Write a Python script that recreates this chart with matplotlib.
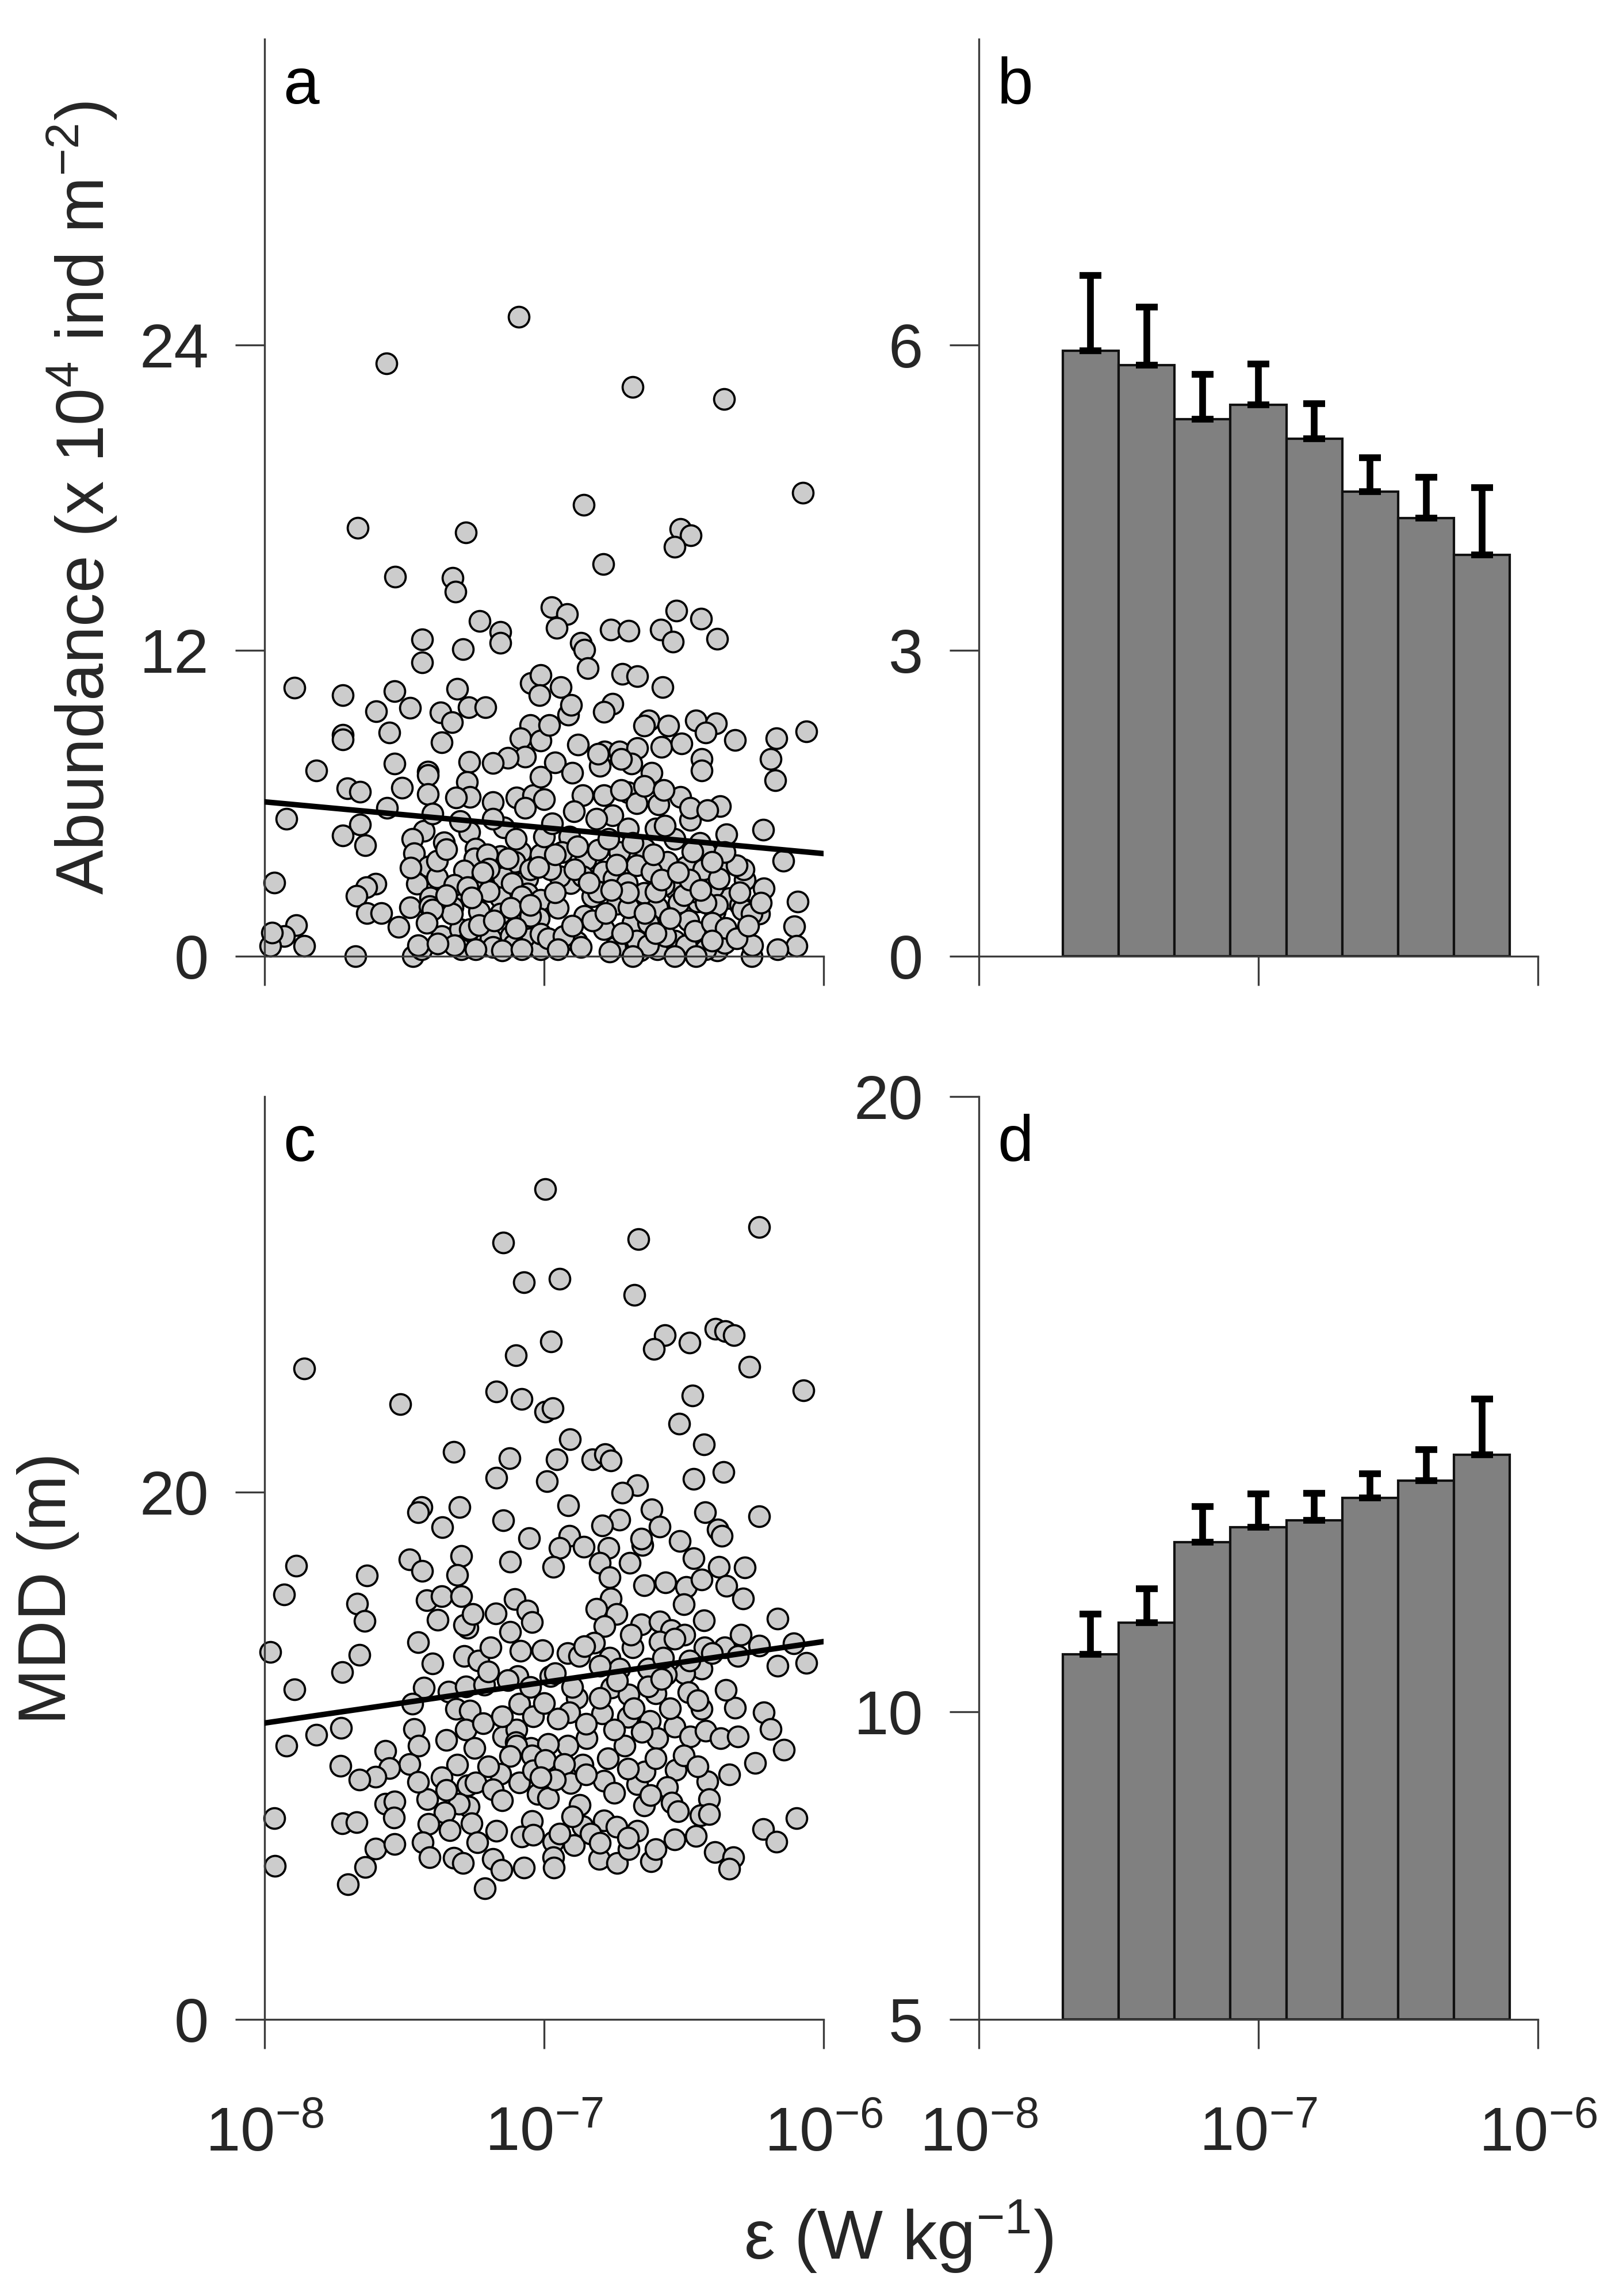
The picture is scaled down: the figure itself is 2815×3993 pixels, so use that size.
import numpy as np
import matplotlib
matplotlib.use('Agg')
from matplotlib import pyplot as plt
from matplotlib.ticker import FixedLocator, NullLocator

plt.rcParams['font.family'] = ['Liberation Sans', 'DejaVu Sans']
plt.rcParams['mathtext.fontset'] = 'custom'
plt.rcParams['mathtext.rm'] = 'Liberation Sans'
plt.rcParams['mathtext.it'] = 'Liberation Sans:italic'
plt.rcParams['mathtext.bf'] = 'Liberation Sans:bold'
plt.rcParams['mathtext.default'] = 'regular'

# ---- data (x values as log10 of dissipation rate, W kg-1) ----
# panel a: abundance (x 10^4 ind m^-2) vs log10(eps)
abund_pts = [
    (-7.09, 25.1), (-7.563, 23.26), (-6.683, 22.35), (-6.356, 21.88), (-6.075, 18.2),
    (-6.859, 17.72), (-7.666, 16.81), (-7.28, 16.63), (-6.513, 16.78), (-6.476, 16.53),
    (-6.533, 16.07), (-6.788, 15.39), (-7.532, 14.89), (-7.328, 14.86), (-7.317, 14.3),
    (-7.23, 13.16), (-7.156, 12.73), (-6.973, 13.69), (-6.918, 13.44), (-6.955, 12.89),
    (-6.761, 12.83), (-6.698, 12.78), (-6.583, 12.83), (-6.526, 13.56), (-6.439, 13.24),
    (-7.436, 12.44), (-7.436, 11.53), (-7.29, 12.05), (-7.156, 12.3), (-7.894, 10.53),
    (-7.72, 10.25), (-7.535, 10.41), (-7.60, 9.62), (-7.48, 9.75), (-7.31, 10.5),
    (-7.37, 9.57), (-7.27, 9.78), (-7.21, 9.78), (-7.33, 9.19), (-7.72, 8.69),
    (-7.72, 8.52), (-7.554, 8.78), (-7.366, 8.39), (-7.047, 10.71), (-7.013, 11.04),
    (-7.016, 10.25), (-7.05, 9.08), (-7.084, 8.56), (-7.013, 8.47), (-7.067, 7.83),
    (-7.129, 7.78), (-7.184, 7.59), (-7.267, 7.63), (-7.815, 7.28), (-7.535, 7.56),
    (-7.415, 7.24), (-7.415, 7.1), (-7.703, 6.58), (-7.658, 6.45), (-7.508, 6.62),
    (-7.415, 6.37), (-7.276, 6.83), (-7.266, 6.26), (-7.314, 6.22), (-7.184, 6.04),
    (-7.098, 6.24), (-7.04, 6.31), (-7.013, 7.04), (-7.561, 5.83), (-7.921, 5.4),
    (-7.658, 5.17), (-7.72, 4.74), (-7.64, 4.36), (-7.144, 5.05), (-7.43, 4.92),
    (-7.472, 4.61), (-7.359, 4.48), (-7.267, 4.88), (-7.465, 4.05), (-7.245, 4.22),
    (-7.25, 3.83), (-7.156, 3.92), (-7.084, 4.09), (-7.013, 4.0), (-7.105, 3.7),
    (-7.966, 2.9), (-7.414, 3.53), (-7.383, 3.09), (-7.455, 2.84), (-7.287, 3.36),
    (-7.225, 2.96), (-7.146, 3.09), (-7.06, 3.05), (-7.602, 2.84), (-7.636, 2.70),
    (-7.671, 2.36), (-7.407, 2.31), (-7.302, 2.36), (-7.156, 2.31), (-7.06, 2.45),
    (-7.013, 2.22), (-7.48, 1.92), (-7.41, 1.96), (-7.328, 1.92), (-7.232, 1.75),
    (-7.633, 1.70), (-7.582, 1.70), (-7.52, 1.14), (-7.887, 1.22), (-7.931, 0.79),
    (-7.979, 0.40), (-7.859, 0.40), (-7.973, 0.93), (-7.674, 0.0), (-7.47, 0.0),
    (-7.438, 0.27), (-7.45, 0.44), (-7.366, 0.79), (-7.30, 1.05), (-7.293, 0.44),
    (-7.266, 1.05), (-7.191, 0.70), (-7.119, 0.79), (-7.081, 1.22), (-7.019, 1.49),
    (-7.05, 0.70), (-7.297, 0.27), (-7.184, 0.36), (-7.109, 0.45), (-7.013, 0.27),
    (-7.478, 3.48), (-7.32, 2.8), (-7.197, 2.54), (-7.087, 1.49), (-7.204, 4.0),
    (-7.115, 2.87), (-7.05, 3.40), (-7.081, 2.35), (-7.156, 1.66), (-7.013, 0.88),
    (-7.232, 1.22), (-7.05, 1.57), (-7.273, 2.70), (-7.383, 3.74), (-7.33, 1.66),
    (-7.40, 1.83), (-7.32, 0.44), (-7.245, 0.27), (-7.15, 0.23), (-7.08, 0.27),
    (-7.197, 3.44), (-7.13, 3.83), (-7.184, 5.39), (-7.0, 4.70), (-7.0, 6.17),
    (-7.067, 5.83),
    (-6.868, 12.3), (-6.855, 12.03), (-6.844, 11.3), (-6.539, 12.34), (-6.381, 12.47),
    (-6.721, 11.08), (-6.666, 10.99), (-6.577, 10.56), (-6.94, 10.56), (-6.755, 9.91),
    (-6.786, 9.60), (-6.913, 9.47), (-6.903, 9.86), (-6.981, 9.08), (-6.625, 9.26),
    (-6.556, 9.04), (-6.642, 9.04), (-6.457, 9.26), (-6.385, 9.13), (-6.422, 8.78),
    (-6.316, 8.48), (-6.169, 8.56), (-6.062, 8.82), (-6.189, 7.74), (-6.172, 6.91),
    (-6.879, 8.30), (-6.961, 7.61), (-6.899, 7.21), (-6.783, 8.04), (-6.731, 8.04),
    (-6.666, 8.17), (-6.58, 8.21), (-6.508, 8.35), (-6.687, 7.56), (-6.8, 7.48),
    (-6.615, 7.21), (-6.436, 7.74), (-6.436, 7.30), (-6.862, 6.31), (-6.786, 6.31),
    (-6.70, 6.43), (-6.669, 6.0), (-6.591, 5.96), (-6.512, 6.26), (-6.892, 5.69),
    (-6.755, 5.52), (-6.371, 5.88), (-6.477, 5.35), (-6.217, 4.96), (-6.70, 5.0),
    (-6.601, 5.0), (-6.909, 4.70), (-6.347, 4.79), (-6.443, 4.44), (-6.145, 3.74),
    (-6.731, 4.09), (-6.639, 4.22), (-6.56, 3.7), (-6.491, 3.53), (-6.851, 3.79),
    (-6.337, 3.66), (-6.789, 3.31), (-6.282, 3.0), (-6.213, 2.66), (-6.906, 2.87),
    (-6.532, 2.66), (-6.642, 2.48), (-6.093, 2.14), (-6.104, 1.18), (-6.097, 0.40),
    (-6.165, 0.27), (-6.258, 0.01), (-6.255, 0.44), (-6.738, 2.05), (-6.388, 1.75),
    (-6.337, 2.27), (-6.23, 1.66), (-6.45, 2.14), (-6.594, 1.92), (-6.683, 1.32),
    (-6.786, 1.05), (-6.419, 0.92), (-6.882, 0.57), (-6.594, 0.27), (-6.381, 0.23),
    (-6.745, 0.36), (-6.985, 0.70), (-6.532, 0.62), (-6.656, 0.23), (-6.944, 3.13),
    (-6.827, 2.35), (-6.628, 1.32), (-6.484, 1.40), (-6.299, 2.0), (-6.855, 1.57),
    (-6.573, 2.79), (-6.807, 7.95), (-6.724, 7.74), (-6.813, 5.39), (-6.724, 6.52),
    (-6.642, 6.69), (-6.573, 6.52), (-6.477, 5.83), (-6.416, 5.74), (-6.422, 4.09),
    (-6.285, 3.40), (-6.31, 3.57), (-6.395, 2.70), (-6.457, 2.53), (-6.381, 2.0),
    (-6.29, 1.83), (-6.258, 1.66), (-6.224, 2.09), (-6.93, 0.79), (-6.827, 1.40),
    (-6.697, 1.92), (-6.669, 0.62), (-6.628, 0.44), (-6.566, 0.79), (-6.491, 0.44),
    (-6.422, 0.27), (-6.354, 0.53), (-6.457, 0.01), (-6.532, 0.01), (-6.683, 0.01),
    (-6.765, 0.18), (-6.868, 0.36), (-6.95, 0.27), (-6.807, 2.53), (-6.752, 3.05),
    (-6.704, 2.87), (-6.601, 2.53), (-6.519, 2.09), (-6.862, 3.13), (-6.669, 3.57),
    (-6.615, 3.31), (-6.43, 3.40), (-6.374, 3.05), (-6.422, 2.09), (-6.978, 3.40),
    (-6.936, 4.09), (-6.807, 4.18), (-6.683, 4.44), (-6.532, 4.61), (-6.354, 4.09),
    (-6.567, 5.13), (-6.77, 4.61), (-6.971, 5.22),
    # partly hidden points in the dense cluster
    (-6.95, 1.9), (-6.90, 1.2), (-6.78, 1.7), (-6.72, 0.9), (-6.64, 1.7),
    (-6.60, 0.9), (-6.55, 1.5), (-6.50, 2.4), (-6.46, 1.0), (-6.40, 1.3),
    (-6.35, 1.1), (-6.31, 0.7), (-6.27, 1.2), (-6.40, 0.6), (-6.70, 2.5),
    (-6.76, 2.6), (-6.58, 3.0), (-6.48, 3.0), (-6.44, 2.6), (-6.52, 3.3),
    (-6.89, 3.4), (-6.96, 2.5), (-6.84, 2.9), (-6.74, 3.6), (-6.61, 4.0),
    (-6.47, 4.1), (-6.40, 3.7), (-6.30, 2.5), (-6.88, 4.3), (-6.96, 4.0),
    (-7.12, 1.9), (-7.18, 1.4), (-7.26, 2.3), (-7.35, 2.4), (-7.42, 1.3),
    (-7.38, 0.5), (-7.05, 2.0), (-7.10, 1.1), (-7.22, 3.3), (-7.02, 3.5),
    (-7.35, 4.2), (-7.10, 4.6), (-7.30, 5.3), (-7.40, 5.6),
]

# panel c: MDD (m) vs log10(eps)
mdd_pts = [
    (-6.996, 31.48), (-6.231, 30.05), (-7.146, 29.46), (-6.663, 29.59), (-7.072, 27.95),
    (-6.945, 28.08), (-6.677, 27.47), (-6.567, 25.96), (-6.607, 25.42), (-6.479, 25.66),
    (-6.386, 26.2), (-6.352, 26.1), (-6.321, 25.96), (-6.976, 25.71), (-7.10, 25.18),
    (-7.859, 24.69), (-6.265, 24.76), (-6.071, 23.86), (-7.514, 23.33), (-7.17, 23.82),
    (-7.08, 23.54), (-6.996, 23.04), (-6.969, 23.18), (-6.469, 23.67), (-6.516, 22.6),
    (-6.908, 22.01), (-7.324, 21.53), (-6.429, 21.8), (-7.123, 21.28), (-7.17, 20.55),
    (-6.955, 21.23), (-6.989, 20.41), (-6.828, 21.23), (-6.781, 21.43), (-6.761, 21.19),
    (-6.466, 20.5), (-6.359, 20.75), (-6.667, 20.26), (-6.721, 19.97),
    (-7.439, 19.42), (-7.451, 19.24), (-7.302, 19.42), (-7.364, 18.67), (-7.146, 18.93),
    (-7.053, 18.26), (-7.887, 17.2), (-7.633, 16.84), (-7.93, 16.12), (-7.669, 15.76),
    (-7.641, 15.11), (-7.482, 17.44), (-7.436, 17.02), (-7.297, 17.58), (-7.311, 16.85),
    (-7.122, 17.35), (-7.42, 15.89), (-7.366, 16.05), (-7.297, 16.04), (-7.381, 15.16),
    (-7.273, 14.84), (-7.287, 14.95), (-7.256, 15.38), (-7.173, 15.40), (-7.105, 15.93),
    (-7.06, 15.51), (-7.043, 15.06), (-7.122, 14.69), (-7.979, 13.94), (-7.66, 13.82),
    (-7.722, 13.17), (-7.287, 13.78), (-7.235, 13.6), (-7.191, 14.11), (-7.084, 13.97),
    (-7.006, 14.0), (-7.894, 12.51), (-7.431, 12.58), (-7.342, 12.44), (-7.28, 12.62),
    (-7.215, 12.69), (-7.095, 13.02), (-7.129, 12.87), (-7.472, 11.97), (-7.314, 11.78),
    (-7.266, 11.71), (-7.088, 11.97), (-7.04, 11.49), (-7.726, 11.06), (-7.815, 10.8),
    (-7.921, 10.37), (-7.465, 11.02), (-7.28, 10.99), (-7.218, 11.24), (-7.146, 10.73),
    (-7.098, 10.99), (-7.101, 10.51), (-7.047, 10.29), (-7.568, 10.19), (-7.448, 10.37),
    (-6.731, 18.95), (-6.793, 18.73), (-6.913, 19.49), (-6.615, 19.35), (-6.587, 18.69),
    (-6.424, 19.24), (-6.378, 18.58), (-6.364, 18.33), (-6.23, 19.08), (-6.909, 18.33),
    (-6.944, 17.89), (-6.858, 17.93), (-6.769, 17.89), (-6.968, 17.16), (-6.649, 18.0),
    (-6.653, 18.22), (-6.515, 18.15), (-6.693, 17.31), (-6.8, 17.31), (-6.765, 16.77),
    (-6.464, 17.49), (-6.374, 17.16), (-6.282, 17.13), (-6.642, 16.47), (-6.566, 16.58),
    (-6.491, 16.4), (-6.436, 16.69), (-6.347, 16.44), (-6.289, 15.97), (-6.762, 15.97),
    (-6.813, 15.57), (-6.501, 15.75), (-6.741, 15.38), (-6.783, 14.91), (-6.652, 14.98),
    (-6.587, 15.09), (-6.546, 14.77), (-6.429, 15.13), (-6.165, 15.2), (-6.916, 13.89),
    (-6.82, 14.29), (-6.683, 14.11), (-6.498, 14.58), (-6.587, 14.33), (-6.426, 14.11),
    (-6.354, 14.11), (-6.296, 14.58), (-6.23, 14.18), (-6.107, 14.26), (-6.165, 13.42),
    (-6.062, 13.53), (-6.306, 13.78), (-6.436, 13.31), (-6.498, 13.13), (-6.563, 13.09),
    (-6.628, 13.31), (-6.765, 13.71), (-6.875, 13.78), (-6.978, 13.02), (-6.731, 13.31),
    (-6.882, 12.19), (-6.909, 11.64), (-6.759, 12.58), (-6.697, 12.33), (-6.601, 12.37),
    (-6.484, 12.4), (-6.436, 11.78), (-6.316, 11.82), (-6.213, 11.64), (-6.189, 11.02),
    (-6.793, 11.6), (-6.70, 11.46), (-6.621, 11.31), (-6.532, 11.09), (-6.477, 10.73),
    (-6.422, 10.95), (-6.368, 10.66), (-6.306, 10.73), (-6.594, 10.66), (-6.848, 10.66),
    (-6.916, 10.37), (-6.985, 10.44), (-6.711, 10.37), (-6.141, 10.22), (-6.96, 13.13),
    (-6.8, 13.42), (-6.574, 13.71), (-6.532, 14.44), (-6.689, 14.58), (-6.855, 14.15),
    (-6.738, 12.84), (-6.628, 12.62),
    (-7.482, 9.69), (-7.553, 9.54), (-7.602, 9.21), (-7.66, 9.10), (-7.729, 9.62),
    (-7.098, 10.39), (-7.043, 10.02), (-7.122, 9.99), (-7.156, 9.32), (-7.088, 8.99),
    (-7.04, 9.44), (-7.023, 8.55), (-7.311, 9.66), (-7.366, 9.18), (-7.273, 8.88),
    (-7.245, 8.99), (-7.184, 8.73), (-7.27, 8.07), (-7.304, 8.18), (-7.417, 8.36),
    (-7.355, 7.85), (-7.414, 7.41), (-7.338, 7.18), (-7.259, 7.44), (-7.239, 6.71),
    (-7.434, 6.71), (-7.41, 6.15), (-7.324, 6.12), (-7.29, 5.93), (-7.184, 6.08),
    (-7.153, 5.67), (-7.071, 5.75), (-7.211, 4.97), (-7.17, 7.15), (-7.043, 7.52),
    (-7.081, 6.93), (-7.04, 7.0), (-7.966, 7.63), (-7.963, 5.82), (-7.722, 7.44),
    (-7.671, 7.48), (-7.568, 8.18), (-7.534, 8.26), (-7.537, 7.66), (-7.602, 6.48),
    (-7.535, 6.65), (-7.64, 5.78), (-7.702, 5.12),
    (-6.995, 9.84), (-6.862, 9.66), (-6.772, 9.91), (-6.927, 9.69), (-6.244, 9.73),
    (-6.337, 9.29), (-6.416, 9.03), (-6.409, 8.36), (-6.44, 7.74), (-6.409, 7.78),
    (-6.457, 6.96), (-6.906, 8.96), (-6.985, 8.4), (-6.872, 8.14), (-6.786, 9.06),
    (-6.666, 8.92), (-6.639, 9.4), (-6.529, 9.47), (-6.56, 8.81), (-6.543, 8.22),
    (-6.642, 8.11), (-6.961, 9.10), (-7.012, 9.18), (-6.786, 7.55), (-6.741, 7.30),
    (-6.666, 7.15), (-6.892, 6.6), (-6.968, 6.74), (-6.968, 6.15), (-6.964, 5.75),
    (-6.803, 6.08), (-6.738, 5.93), (-6.697, 6.45), (-6.618, 6.0), (-6.601, 6.45),
    (-6.532, 6.82), (-6.388, 6.34), (-6.323, 6.15), (-6.337, 5.71), (-6.217, 7.22),
    (-6.169, 6.74), (-6.097, 7.63), (-6.944, 7.04), (-6.862, 7.33), (-6.834, 7.04),
    # partly hidden points in the dense cluster
    (-7.0, 12.0), (-6.95, 11.4), (-6.85, 11.2), (-6.75, 11.0), (-6.65, 10.9),
    (-6.55, 11.8), (-6.45, 12.1), (-6.35, 12.5), (-6.90, 12.6), (-6.80, 12.2),
    (-6.68, 11.8), (-6.58, 12.9), (-6.48, 13.6), (-6.40, 13.9), (-6.85, 9.3),
    (-6.70, 9.5), (-6.60, 9.9), (-6.50, 10.0), (-6.45, 9.6), (-6.75, 8.6),
    (-6.62, 8.5), (-6.52, 7.9), (-6.90, 7.7), (-6.80, 6.7), (-6.70, 6.9),
    (-7.15, 8.3), (-7.20, 9.6), (-7.35, 8.7), (-7.45, 9.0), (-7.25, 10.3),
    (-7.35, 10.6), (-7.15, 11.5), (-7.05, 12.6), (-7.20, 13.2), (-7.40, 13.5),
    (-7.45, 14.3),
]

# linear fits  y = b0 + b1 * log10(eps)
fit_abund = (-2.06, -1.015)
fit_mdd = (23.60, 1.545)

# binned means (panels b and d), bin edges in log10(eps)
bin_edges_log = [-7.7, -7.5, -7.3, -7.1, -6.9, -6.7, -6.5, -6.3, -6.1]
abund_mean = [5.94, 5.80, 5.27, 5.41, 5.08, 4.56, 4.30, 3.94]
abund_se = [0.74, 0.57, 0.44, 0.40, 0.34, 0.33, 0.40, 0.66]
mdd_mean = [10.93, 11.45, 12.76, 13.00, 13.11, 13.48, 13.76, 14.18]
mdd_se = [0.66, 0.55, 0.58, 0.54, 0.44, 0.39, 0.50, 0.90]

# ---- figure ----
W, H = 2815, 3993
fig = plt.figure(figsize=(W/300, H/300), dpi=300)

def box(x0, y_top, x1, y_bot):
    return [x0/W, 1-y_bot/H, (x1-x0)/W, (y_bot-y_top)/H]

ax_a = fig.add_axes(box(460, 68, 1432, 1663))
ax_b = fig.add_axes(box(1702, 68, 2674, 1663))
ax_c = fig.add_axes(box(460, 1907, 1432, 3512))
ax_d = fig.add_axes(box(1702, 1907, 2674, 3512))

spine_col = '#3c3c3c'
txt_col = '#262626'

def style(ax, yticks, ylim, xlabels):
    ax.set_xscale('log')
    ax.set_xlim(1e-8, 1e-6)
    ax.set_ylim(*ylim)
    ax.xaxis.set_major_locator(FixedLocator([1e-8, 1e-7, 1e-6]))
    ax.xaxis.set_minor_locator(NullLocator())
    ax.set_yticks(yticks)
    for s in ['top', 'right']:
        ax.spines[s].set_visible(False)
    for s in ['left', 'bottom']:
        ax.spines[s].set_color(spine_col)
        ax.spines[s].set_linewidth(0.8)
    ax.tick_params(direction='out', length=12.3, width=0.8, color=spine_col,
                   labelsize=26, labelcolor=txt_col)
    ax.tick_params(axis='y', pad=11)
    ax.tick_params(axis='x', pad=24, labelbottom=xlabels)

def scatter_panel(ax, pts, fit):
    pts = np.array(pts)
    ax.scatter(10**pts[:, 0], pts[:, 1], s=74, facecolor='#cccccc',
               edgecolor='k', linewidths=0.9, zorder=2, clip_on=False)
    eps = np.logspace(-8, -6, 50)
    ax.plot(eps, fit[0] + fit[1]*np.log10(eps), color='k', lw=2.3, zorder=3)

def bar_panel(ax, mean, se, bottom):
    edges = 10**np.array(bin_edges_log)
    centers = 10**((np.array(bin_edges_log[:-1]) + np.array(bin_edges_log[1:]))/2)
    mean = np.array(mean)
    ax.bar(edges[:-1], mean-bottom, width=np.diff(edges), bottom=bottom, align='edge',
           color='#808080', edgecolor='#111111', linewidth=1.0, zorder=2)
    ax.errorbar(centers, mean, yerr=[np.zeros(len(se)), se], fmt='none', ecolor='k',
                elinewidth=2.8, capsize=4.6, capthick=2.8, zorder=3)

scatter_panel(ax_a, abund_pts, fit_abund)
scatter_panel(ax_c, mdd_pts, fit_mdd)
bar_panel(ax_b, abund_mean, abund_se, 0)
bar_panel(ax_d, mdd_mean, mdd_se, 5)

style(ax_a, [0, 12, 24], (0, 36), False)
style(ax_b, [0, 3, 6], (0, 9), False)
style(ax_c, [0, 20], (0, 35), True)
style(ax_d, [5, 10, 20], (5, 20), True)

for ax, lab in zip([ax_a, ax_b, ax_c, ax_d], ['a', 'b', 'c', 'd']):
    ax.text(0.033, 0.930, lab, transform=ax.transAxes, fontsize=27,
            color='k', ha='left', va='baseline')

fig.text(143/W, 1-866/H, 'Abundance (x 10$^{4}$ ind m$^{-2}$)', rotation=90,
         ha='center', va='center', fontsize=28, color=txt_col)
fig.text(84/W, 1-2763/H, 'MDD (m)', rotation=90,
         ha='center', va='center', fontsize=28, color=txt_col)
fig.text(1562/W, 1-3890/H, 'ε (W kg$^{-1}$)',
         ha='center', va='center', fontsize=29, color=txt_col)

fig.savefig('out.png', dpi=300)
